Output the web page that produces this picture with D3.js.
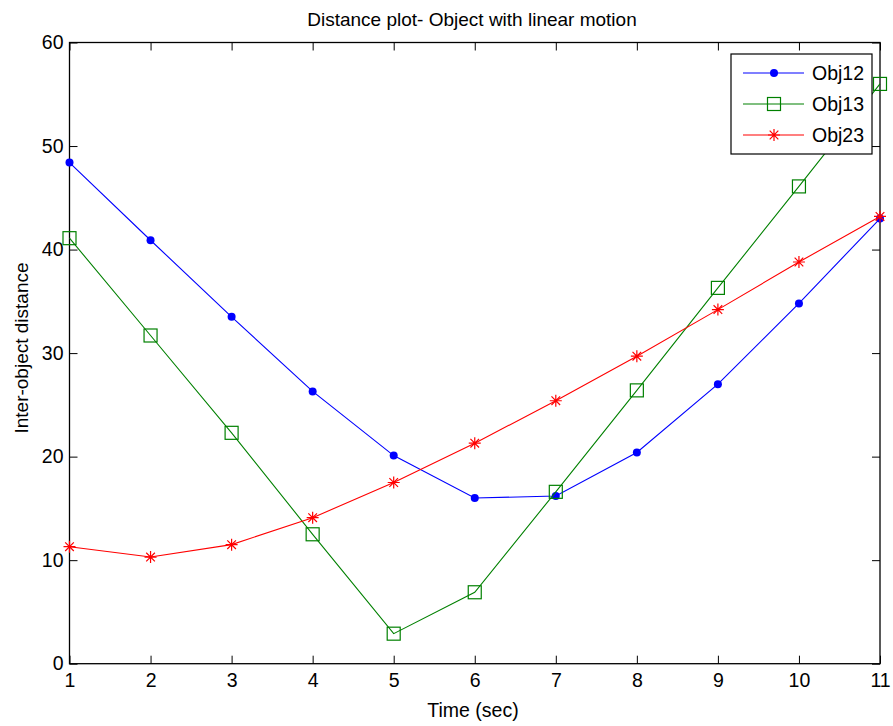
<!DOCTYPE html>
<html>
<head>
<meta charset="utf-8">
<script src="https://cdn.jsdelivr.net/npm/d3@7"></script>
<style>
  html, body { margin: 0; padding: 0; background: #fff; }
  svg { display: block; }
  text { font-family: "Liberation Sans", Arial, sans-serif; fill: #000; }
</style>
</head>
<body>
<svg id="chart" width="893" height="726"></svg>
<script>
// Time axis (seconds)
const times = [1, 2, 3, 4, 5, 6, 7, 8, 9, 10, 11];

// Inter-object distances per pair
const obj12 = [48.4, 40.9, 33.5, 26.3, 20.1, 16.0, 16.2, 20.4, 27.0, 34.8, 43.0];
const obj13 = [41.1, 31.7, 22.3, 12.5, 2.9, 6.9, 16.6, 26.4, 36.3, 46.1, 56.0];
const obj23 = [11.3, 10.3, 11.5, 14.1, 17.5, 21.3, 25.4, 29.7, 34.2, 38.8, 43.2];

const seriesNames = ["Obj12", "Obj13", "Obj23"];
const seriesColors = ["#0000ff", "#008000", "#ff0000"];
const seriesMarkers = ["dot", "square", "star"];

const xTicks = [1, 2, 3, 4, 5, 6, 7, 8, 9, 10, 11];
const yTicks = [0, 10, 20, 30, 40, 50, 60];

const titleText = "Distance plot- Object with linear motion";
const xLabelText = "Time (sec)";
const yLabelText = "Inter-object distance";

const svg = d3.select("#chart");
const plot = { left: 69.5, right: 880, top: 42.5, bottom: 663.7 };

const x = d3.scaleLinear().domain([1, 11]).range([plot.left, plot.right]);
const y = d3.scaleLinear().domain([0, 60]).range([plot.bottom, plot.top]);

const tickLen = 8;
const fontSize = 19.5;

// Axes: ticks point inward, mirrored on the top and right edges
const gx = svg.append("g").attr("transform", `translate(0,${plot.bottom})`)
  .call(d3.axisBottom(x).tickValues(xTicks).tickSizeInner(-tickLen).tickSizeOuter(0).tickPadding(16).tickFormat(d3.format("d")));
const gxTop = svg.append("g").attr("transform", `translate(0,${plot.top})`)
  .call(d3.axisTop(x).tickValues(xTicks).tickSizeInner(-tickLen).tickSizeOuter(0).tickFormat(""));
const gy = svg.append("g").attr("transform", `translate(${plot.left},0)`)
  .call(d3.axisLeft(y).tickValues(yTicks).tickSizeInner(-tickLen).tickSizeOuter(0).tickPadding(6).tickFormat(d3.format("d")));
const gyRight = svg.append("g").attr("transform", `translate(${plot.right},0)`)
  .call(d3.axisRight(y).tickValues(yTicks).tickSizeInner(-tickLen).tickSizeOuter(0).tickFormat(""));

[gx, gxTop, gy, gyRight].forEach(g => {
  g.select(".domain").remove();
  g.selectAll(".tick line").attr("stroke", "#000").attr("stroke-width", 1);
  g.selectAll(".tick text").attr("font-size", fontSize).attr("font-family", "Liberation Sans, Arial, sans-serif");
});
gx.selectAll(".tick text").attr("dy", "0.4em");

// Plot box
svg.append("rect")
  .attr("x", plot.left).attr("y", plot.top)
  .attr("width", plot.right - plot.left).attr("height", plot.bottom - plot.top)
  .attr("fill", "none").attr("stroke", "#000").attr("stroke-width", 1.3);

// Titles
svg.append("text").attr("x", 472).attr("y", 26).attr("text-anchor", "middle")
  .attr("font-size", 19).text(titleText);
svg.append("text").attr("x", 473).attr("y", 717).attr("text-anchor", "middle")
  .attr("font-size", fontSize).text(xLabelText);
svg.append("text").attr("transform", "translate(28,348) rotate(-90)").attr("text-anchor", "middle")
  .attr("font-size", 19).text(yLabelText);

// Marker drawing
function drawMarker(g, type, color, cx, cy) {
  if (type === "dot") {
    g.append("circle").attr("cx", cx).attr("cy", cy).attr("r", 4).attr("fill", color);
  } else if (type === "square") {
    const s = 13;
    g.append("rect").attr("x", cx - s / 2).attr("y", cy - s / 2).attr("width", s).attr("height", s)
      .attr("fill", "none").attr("stroke", color).attr("stroke-width", 1.2);
  } else if (type === "star") {
    const r = 6;
    const d = r * 0.72;
    const path = `M${cx - r},${cy}L${cx + r},${cy}M${cx},${cy - r}L${cx},${cy + r}` +
      `M${cx - d},${cy - d}L${cx + d},${cy + d}M${cx - d},${cy + d}L${cx + d},${cy - d}`;
    g.append("path").attr("d", path).attr("stroke", color).attr("stroke-width", 1.2).attr("fill", "none");
  }
}

const allSeries = [obj12, obj13, obj23];
const line = d3.line().x((d, i) => x(times[i])).y(d => y(d));

allSeries.forEach((vals, k) => {
  const g = svg.append("g");
  g.append("path").datum(vals).attr("d", line)
    .attr("fill", "none").attr("stroke", seriesColors[k]).attr("stroke-width", 1.1);
  vals.forEach((v, i) => drawMarker(g, seriesMarkers[k], seriesColors[k], x(times[i]), y(v)));
});

// Legend
const leg = svg.append("g");
leg.append("rect").attr("x", 731).attr("y", 54).attr("width", 141).attr("height", 100)
  .attr("fill", "#fff").attr("stroke", "#000").attr("stroke-width", 1.2);
seriesNames.forEach((name, k) => {
  const ly = 73 + k * 31;
  leg.append("line").attr("x1", 743).attr("x2", 804).attr("y1", ly).attr("y2", ly)
    .attr("stroke", seriesColors[k]).attr("stroke-width", 1.1);
  drawMarker(leg, seriesMarkers[k], seriesColors[k], 774, ly);
  leg.append("text").attr("x", 812).attr("y", ly).attr("dy", "0.36em")
    .attr("font-size", fontSize).text(name);
});
</script>
</body>
</html>
